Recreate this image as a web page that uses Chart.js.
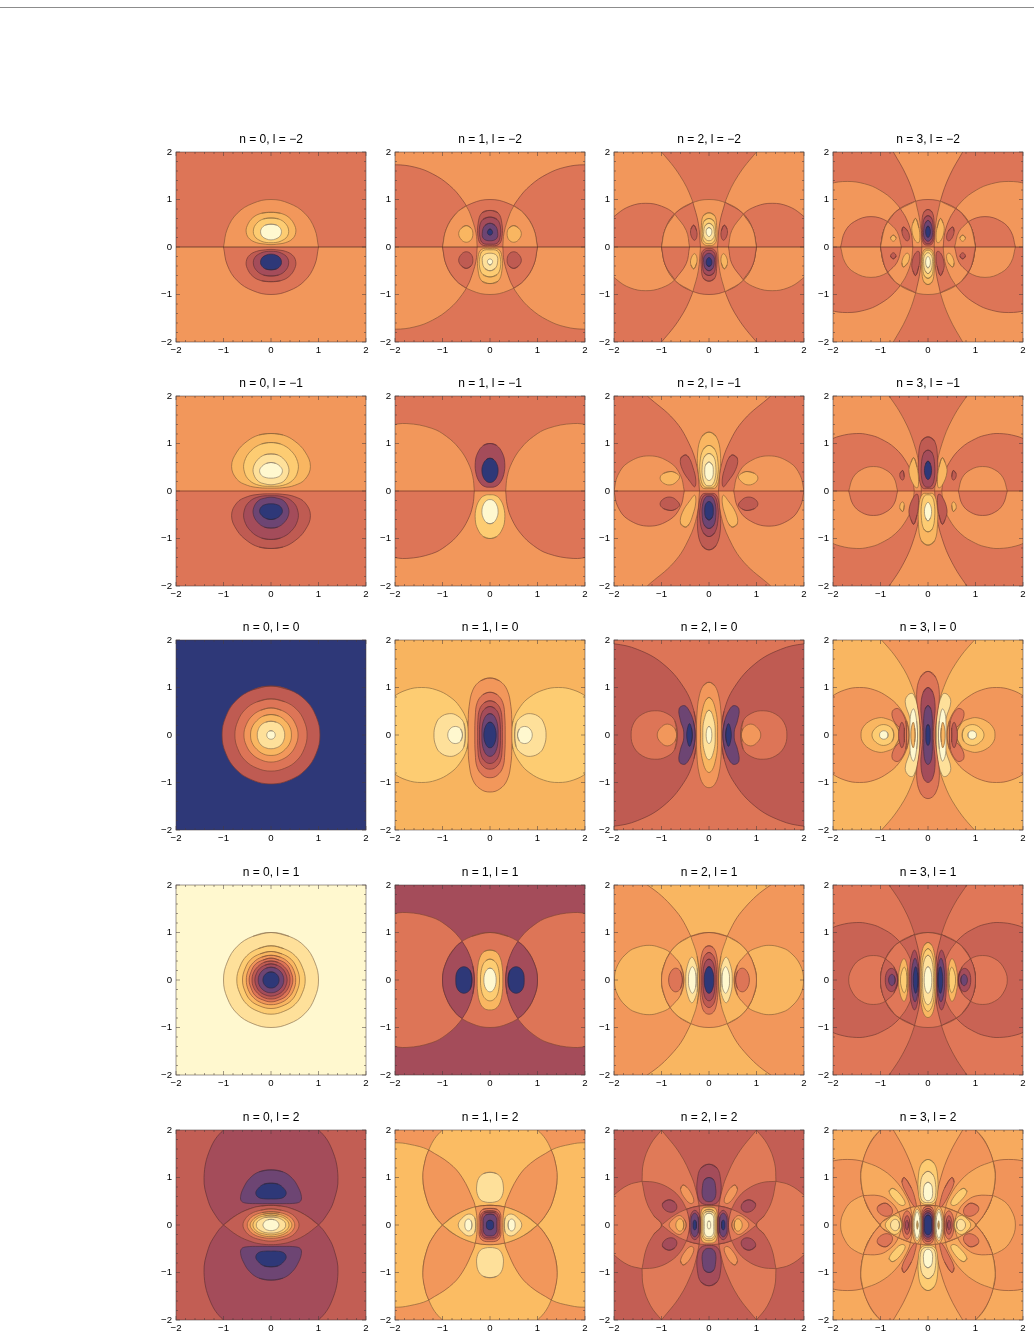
<!DOCTYPE html>
<html>
<head>
<meta charset="utf-8">
<title>Contour grid</title>
<script src="https://cdn.jsdelivr.net/npm/chart.js@4"></script>
<style>
html,body{margin:0;padding:0;background:#fff}
body{position:relative;width:1034px;height:1339px;overflow:hidden}
#rule{position:absolute;left:0;top:7px;width:1034px;height:1px;background:#8c8c8c}
canvas{position:absolute}
</style>
</head>
<body>
<div id="rule"></div>
<script>
// Grid axes
const nValues = [0, 1, 2, 3];
const lValues = [-2, -1, 0, 1, 2];
const majorTicks = [-2, -1, 0, 1, 2];
const minorTicks = [-1.8,-1.6,-1.4,-1.2,-0.8,-0.6,-0.4,-0.2,0.2,0.4,0.6,0.8,1.2,1.4,1.6,1.8];

// Contour band colours, dark to light. The reversed order gives the opposite-sign band.
const bandOrder = "NPWBROLYCV";
const bandColors = ["#2e3878","#6d4573","#a44c5a","#bf5b52","#dd7557","#f2975b","#f9b661","#fdcc72","#fee09a","#fff8cf"];
// A few panels run their colour scale slightly differently
const bandShifts = {"3,2": {L: "#f7aa5e", O: "#f1945a"}, "3,1": {B: "#c96354", R: "#e07758"}, "2,2": {B: "#c35e54", R: "#e07a58"},
  "0,2": {B: "#c25e54"}, "1,2": {L: "#fbbc63"}, "1,0": {L: "#f8b45f"}};

// Frequently used contour arcs (x,y pairs)
const unitQuarter = [0,1,.38,.92,.71,.71,.92,.38,1,0];
const lensQuarter = [0,.414,.2,.4,.4,.356,.7,.224,1,0];
const offsetDisc = [0,2.41,.5,2.32,1,2,1.28,1.6,1.41,1,1.32,.5,1.166,.2,1,0,.7,-.224,.35,-.37,0,-.41];

// Contour shapes per panel: [band, symmetry, points]
const n0_lm2 = [
 ['O','h',unitQuarter],
 ['L','y',[0,.73,.2,.71,.38,.62,.5,.45,.52,.3,.45,.17,.3,.09,.12,.06,0,.05]],
 ['Y','y',[0,.61,.16,.59,.3,.5,.37,.36,.34,.22,.22,.13,.1,.095,0,.09]],
 ['V','y',[0,.48,.12,.46,.2,.39,.22,.32,.19,.23,.1,.17,0,.15]]];
const n1_lm2 = [
 ['R','a',[.27,0,.296,.3,.418,.7,.586,1,.855,1.3,1.21,1.54,1.58,1.68,2,1.73,2.4,1.68,2.4,0]],
 ['R','h',unitQuarter],
 ['O','a',[[.27,0,.296,.3,.418,.7,.5,.866],[.5,.866,.71,.71,.92,.38,1,0]]],
 ['L','b',[.5,.45,.6,.4,.66,.28,.6,.15,.5,.1,.4,.15,.36,.28,.4,.4,.5,.45]],
 ['B','y',[0,.77,.17,.72,.25,.5,.25,.2,.18,.05,0,.03]],
 ['W','y',[0,.63,.15,.58,.22,.42,.21,.2,.15,.08,0,.06]],
 ['P','y',[0,.5,.11,.45,.16,.32,.14,.18,0,.13]],
 ['N','y',[0,.38,.04,.35,.055,.31,.04,.27,0,.25]]];
const n2_lm2 = [
 ['O','a',[.18,0,.225,.5,.36,1,.61,1.5,1,2,1.2,2.2,2.4,2.2,2.4,0]],
 ['R','a',[.41,0,.48,.35,.72,.69,1,.86,1.33,.92,1.66,.86,1.94,.69,2.1,.5,2.2,0]],
 ['O','h',unitQuarter],
 ['R','a',[[.18,0,.225,.5,.34,.94],[.34,.94,.71,.71,.92,.38,1,0]]],
 ['O','a',[[.41,0,.48,.35,.72,.69],[.72,.69,.92,.38,1,0]]],
 ['L','y',[0,.72,.12,.66,.16,.45,.16,.15,.1,.05,0,.03]],
 ['Y','y',[0,.6,.1,.55,.135,.4,.13,.17,.08,.09,0,.07]],
 ['C','y',[0,.5,.08,.45,.11,.33,.1,.2,0,.13]],
 ['V','y',[0,.41,.045,.38,.06,.32,.045,.26,0,.22]],
 ['B','b',[.32,.46,.38,.38,.38,.25,.31,.14,.26,.2,.26,.34,.32,.46]]];
const n3_lm2 = [
 ['R','a',[.13,0,.165,.5,.27,1,.454,1.5,.73,2,.85,2.2,2.4,2.2,2.4,0]],
 ['O','a',[.32,0,.353,.3,.457,.6,.7,.95,1.02,1.2,1.333,1.33,1.7,1.38,2.07,1.33,2.4,1.19,2.4,0]],
 ['R','a',[.56,0,.65,.32,.846,.533,1.2,.64,1.55,.535,1.75,.32,1.84,0]],
 ['R','h',unitQuarter],
 ['O','a',[[.13,0,.165,.5,.26,.966],[.26,.966,.71,.71,.92,.38,1,0]]],
 ['R','a',[[.32,0,.353,.3,.457,.6,.584,.81],[.584,.81,.71,.71,.92,.38,1,0]]],
 ['O','a',[[.56,0,.65,.32,.846,.533],[.846,.533,.92,.38,1,0]]],
 ['B','y',[0,.79,.09,.73,.13,.5,.13,.2,.08,.06,0,.04]],
 ['W','y',[0,.66,.08,.6,.11,.42,.11,.2,.06,.09,0,.07]],
 ['P','y',[0,.56,.06,.5,.09,.35,.08,.2,0,.12]],
 ['N','y',[0,.44,.035,.4,.05,.32,.035,.24,0,.2]],
 ['L','b',[.26,.6,.32,.5,.34,.35,.28,.15,.2,.09,.17,.2,.19,.4,.26,.6]],
 ['B','b',[.52,.42,.55,.33,.5,.18,.43,.13,.39,.2,.43,.34,.52,.42]],
 ['L','b',[.73,.25,.79,.19,.73,.12,.67,.19,.73,.25]]];

const n0_lm1 = [
 ['L','y',[0,1.21,.25,1.18,.5,1.05,.72,.82,.83,.52,.72,.25,.5,.12,.25,.07,0,.06]],
 ['Y','y',[0,1.02,.2,.99,.42,.85,.56,.62,.56,.4,.45,.22,.25,.12,0,.1]],
 ['C','y',[0,.78,.14,.76,.28,.66,.37,.5,.36,.34,.26,.2,.13,.15,0,.13]],
 ['V','y',[0,.6,.1,.58,.19,.52,.24,.43,.2,.33,.1,.28,0,.27]]];
const n1_lm1 = [
 ['O','a',[.33,0,.362,.3,.463,.6,.652,.9,.917,1.15,1.226,1.32,1.75,1.42,2.1,1.376,2.4,1.26,2.4,0]],
 ['W','y',[0,1,.14,.96,.26,.8,.31,.6,.29,.35,.2,.16,.1,.09,0,.08]],
 ['N','y',[0,.69,.08,.66,.15,.55,.17,.42,.14,.29,.07,.2,0,.18]]];
const n2_lm1 = [
 ['R','a',[.2,0,.25,.5,.42,1,.735,1.5,1.3,2,1.5,2.2,2.4,2.2,2.4,0]],
 ['O','a',[.52,0,.6,.33,.82,.6,1.26,.74,1.7,.6,1.92,.33,2,0]],
 ['L','y',[0,1.24,.15,1.15,.24,.8,.22,.35,.15,.08,0,.05]],
 ['Y','y',[0,.96,.12,.88,.19,.6,.18,.3,.11,.1,0,.08]],
 ['C','y',[0,.79,.1,.72,.145,.5,.13,.27,.07,.13,0,.11]],
 ['V','y',[0,.61,.07,.55,.09,.42,.07,.28,0,.22]],
 ['B','b',[.5,.76,.6,.68,.56,.45,.4,.2,.3,.09,.28,.25,.34,.5,.42,.7,.5,.76]],
 ['L','b',[.8,.41,.96,.37,1.03,.27,.95,.16,.8,.13,.68,.2,.62,.3,.7,.38,.8,.41]]];
const n3_lm1 = [
 ['O','a',[.14,0,.178,.5,.296,1,.503,1.5,.82,2,1,2.2,2.4,2.2,2.4,0]],
 ['R','a',[.29,0,.328,.3,.45,.6,.69,.9,1,1.1,1.25,1.184,1.5,1.21,1.85,1.158,2.1,1.05,2.4,.82,2.4,0]],
 ['O','a',[.64,0,.72,.28,.9,.45,1.15,.515,1.4,.45,1.58,.28,1.67,0]],
 ['B','y',[0,1.14,.14,1.05,.2,.7,.19,.3,.12,.07,0,.05]],
 ['W','y',[0,.86,.09,.8,.14,.55,.13,.25,.07,.1,0,.08]],
 ['N','y',[0,.63,.05,.57,.075,.43,.05,.3,0,.24]],
 ['L','b',[.3,.7,.36,.6,.4,.4,.3,.12,.22,.07,.2,.25,.23,.5,.3,.7]],
 ['B','b',[.53,.43,.59,.37,.58,.27,.53,.23,.5,.3,.53,.43]]];

const n0_l0 = [
 ['B','o',[0,1.03,.39,.95,.73,.73,.95,.39,1.03,0]],
 ['R','o',[0,.76,.29,.7,.54,.54,.7,.29,.76,0]],
 ['O','o',[0,.57,.22,.52,.4,.4,.52,.22,.57,0]],
 ['L','o',[0,.43,.16,.4,.3,.3,.4,.16,.43,0]],
 ['C','o',[0,.29,.11,.27,.21,.21,.27,.11,.29,0]],
 ['V','o',[0,.09,.035,.083,.064,.064,.083,.035,.09,0]]];
const n1_l0 = [
 ['Y','x',[.44,0,.486,.3,.64,.6,.84,.8,1.13,.95,1.44,1,1.75,.95,2.04,.8,2.24,.6,2.44,0]],
 ['C','x',[.52,0,.55,.25,.68,.4,.85,.45,1.05,.37,1.15,.2,1.18,0]],
 ['V','x',[.58,0,.62,.13,.73,.18,.84,.13,.89,0]],
 ['O','o',[0,1.2,.2,1.14,.36,.95,.44,.6,.46,.25,.46,0]],
 ['R','o',[0,.9,.15,.85,.27,.68,.31,.4,.32,0]],
 ['B','o',[0,.72,.12,.68,.22,.54,.255,.3,.26,0]],
 ['W','o',[0,.6,.1,.56,.18,.44,.215,.23,.22,0]],
 ['P','o',[0,.45,.07,.42,.13,.32,.165,.17,.17,0]],
 ['N','o',[0,.27,.05,.25,.09,.19,.12,.1,.13,0]]];
const n2_l0 = [
 ['B','x',[.25,0,.316,.5,.53,1,.97,1.5,1.5,1.8,2,1.92,2.4,1.92,2.6,1.5,3,0]],
 ['R','x',[.67,0,.72,.3,.9,.46,1.15,.51,1.4,.44,1.58,.26,1.64,0]],
 ['O','x',[.68,0,.72,.14,.88,.23,1.03,.14,1.09,0]],
 ['P','x',[.29,0,.33,.3,.44,.55,.53,.62,.63,.55,.6,.3,.54,.12,.53,0]],
 ['N','x',[.35,0,.37,.15,.41,.24,.45,.15,.47,0]],
 ['O','o',[0,1.11,.12,1.04,.21,.8,.255,.42,.26,0]],
 ['L','o',[0,.79,.07,.73,.13,.56,.175,.3,.18,0]],
 ['C','o',[0,.52,.05,.48,.09,.37,.125,.2,.13,0]],
 ['V','o',[0,.18,.023,.166,.043,.128,.055,.068,.06,0]]];
const n3_l0 = [
 ['L','x',[.15,0,.195,.5,.33,1,.58,1.5,.98,2,1.5,2.5,2.5,2.8,3.2,0]],
 ['O','x',[.4,0,.45,.3,.62,.6,.84,.8,1.13,.95,1.44,1,1.75,.95,2.04,.8,2.24,.6,2.44,0]],
 ['L','x',[.6,0,.7,.25,.9,.35,1.05,.36,1.25,.28,1.38,.14,1.41,0]],
 ['Y','x',[.72,0,.76,.14,.93,.22,1.1,.15,1.18,0]],
 ['V','x',[.84,0,.86,.06,.93,.09,1,.06,1.02,0]],
 ['R','x',[.45,0,.47,.3,.62,.55,.75,.5,.72,.3,.56,.1,.56,0]],
 ['B','x',[.5,0,.5,.15,.55,.27,.6,.15,.62,0]],
 ['C','x',[.17,0,.18,.4,.3,.85,.4,.86,.48,.7,.38,.35,.33,0]],
 ['V','x',[.22,0,.24,.3,.3,.55,.36,.45,.38,.2,.38,0]],
 ['L','x',[.27,0,.28,.15,.31,.27,.35,.15,.36,0]],
 ['R','o',[0,1.34,.16,1.22,.24,.85,.19,.4,.15,0]],
 ['W','o',[0,1,.1,.9,.15,.6,.13,.3,.11,0]],
 ['P','o',[0,.62,.06,.55,.09,.35,.09,.15,.09,0]],
 ['N','o',[0,.22,.03,.18,.045,.1,.045,0]]];

const n0_l1 = [
 ['C','o',unitQuarter],
 ['Y','o',[0,.72,.27,.66,.51,.51,.66,.27,.72,0]],
 ['L','o',[0,.6,.23,.55,.43,.43,.55,.23,.6,0]],
 ['O','o',[0,.52,.2,.48,.37,.37,.48,.2,.52,0]],
 ['R','o',[0,.46,.17,.42,.33,.33,.42,.17,.46,0]],
 ['B','o',[0,.4,.15,.37,.28,.28,.37,.15,.4,0]],
 ['W','o',[0,.34,.13,.31,.24,.24,.31,.13,.34,0]],
 ['P','o',[0,.27,.1,.25,.19,.19,.25,.1,.27,0]],
 ['N','o',[0,.17,.065,.157,.12,.12,.157,.065,.17,0]]];
const n1_l1 = [
 ['R','x',[.33,0,.362,.3,.463,.6,.652,.9,.917,1.15,1.226,1.32,1.75,1.42,2.1,1.376,2.4,1.26,2.9,.8,3.17,0]],
 ['R','o',unitQuarter],
 ['W','x',[[.33,0,.362,.3,.463,.6,.584,.81],[.584,.81,.71,.71,.92,.38,1,0]]],
 ['N','x',[.38,0,.42,.2,.55,.28,.68,.2,.72,0]],
 ['L','o',[0,.63,.12,.6,.21,.48,.26,.25,.27,0]],
 ['Y','o',[0,.44,.08,.41,.15,.32,.19,.16,.2,0]],
 ['V','o',[0,.25,.05,.23,.09,.18,.12,.1,.13,0]]];
const n2_l1 = [
 ['O','x',[.2,0,.25,.5,.42,1,.735,1.5,1.3,2,2,2.35,2.57,2.37,3,2,4,0]],
 ['L','x',[.53,0,.6,.32,.816,.578,1.05,.69,1.26,.73,1.5,.69,1.7,.59,1.92,.32,1.99,0]],
 ['O','o',unitQuarter],
 ['L','x',[[.2,0,.25,.5,.385,.92],[.385,.92,.71,.71,.92,.38,1,0]]],
 ['O','x',[[.53,0,.6,.32,.816,.578],[.816,.578,.92,.38,1,0]]],
 ['C','x',[.24,0,.25,.25,.36,.48,.46,.28,.49,0]],
 ['V','x',[.27,0,.28,.15,.35,.28,.42,.15,.43,0]],
 ['R','x',[.56,0,.6,.18,.7,.25,.8,.18,.85,0]],
 ['R','o',[0,.72,.09,.68,.15,.55,.185,.3,.19,0]],
 ['B','o',[0,.58,.07,.54,.125,.43,.155,.23,.16,0]],
 ['W','o',[0,.44,.055,.41,.1,.32,.125,.17,.13,0]],
 ['N','o',[0,.28,.04,.26,.07,.2,.095,.11,.1,0]]];
const n3_l1 = [
 ['R','x',[.14,0,.178,.5,.296,1,.503,1.5,.82,2,1.2,2.5,2.2,3,3.2,0]],
 ['B','x',[.29,0,.328,.3,.45,.6,.69,.9,1,1.1,1.25,1.184,1.5,1.21,1.85,1.158,2.1,1.05,2.4,.82,2.6,.5,2.71,0]],
 ['R','x',[.63,0,.72,.28,.9,.45,1.15,.515,1.4,.45,1.58,.28,1.67,0]],
 ['R','o',unitQuarter],
 ['B','x',[[.14,0,.178,.5,.284,.96],[.284,.96,.71,.71,.92,.38,1,0]]],
 ['R','x',[[.29,0,.328,.3,.45,.6,.595,.8],[.595,.8,.71,.71,.92,.38,1,0]]],
 ['B','x',[[.63,0,.72,.28,.894,.448],[.894,.448,.96,.28,1,0]]],
 ['L','o',[0,.79,.075,.74,.13,.58,.16,.32,.165,0]],
 ['Y','o',[0,.66,.06,.61,.11,.47,.135,.25,.14,0]],
 ['C','o',[0,.52,.05,.48,.09,.37,.11,.2,.115,0]],
 ['V','o',[0,.28,.03,.26,.057,.2,.075,.11,.08,0]],
 ['W','x',[.19,0,.2,.35,.28,.63,.36,.45,.385,.15,.385,0]],
 ['P','x',[.2,0,.21,.25,.27,.46,.33,.3,.35,0]],
 ['N','x',[.21,0,.22,.15,.26,.28,.3,.15,.31,0]],
 ['L','x',[.42,0,.43,.25,.5,.45,.58,.32,.62,0]],
 ['Y','x',[.44,0,.45,.15,.5,.27,.56,.15,.58,0]],
 ['W','x',[.64,0,.68,.18,.77,.245,.86,.18,.9,0]],
 ['P','x',[.69,0,.71,.08,.76,.12,.81,.08,.83,0]]];

const n0_l2 = [
 ['W','y',offsetDisc],
 ['B','c',lensQuarter],
 ['R','o',[0,.34,.22,.31,.42,.24,.54,.13,.59,0]],
 ['O','o',[0,.28,.19,.26,.36,.2,.46,.11,.5,0]],
 ['L','o',[0,.245,.17,.225,.31,.17,.4,.09,.44,0]],
 ['Y','o',[0,.21,.14,.19,.27,.15,.35,.08,.38,0]],
 ['C','o',[0,.17,.12,.16,.22,.12,.29,.065,.31,0]],
 ['V','o',[0,.12,.065,.11,.12,.085,.155,.045,.17,0]],
 ['P','y',[0,1.16,.25,1.12,.45,.98,.58,.78,.64,.6,.62,.5,.52,.46,.25,.45,0,.45]],
 ['N','y',[0,.88,.15,.86,.27,.77,.32,.67,.26,.58,.12,.55,0,.55]]];
const n1_l2 = [
 ['L','x',[.27,0,.296,.3,.342,.5,.586,1,.855,1.3,1.29,1.58,1.7,1.7,2,1.73,2.4,1.68,3,1.41,3.73,0]],
 ['L','y',offsetDisc],
 ['O','a',[[.31,.38,.342,.5,.586,1,.855,1.3,1.29,1.58],[1.29,1.58,1.356,1.4,1.414,1,1.32,.5,1.166,.2,1,0],[1,0,.8,.166,.5,.32,.31,.38]]],
 ['L','c',lensQuarter],
 ['O','o',[[0,.414,.15,.406,.31,.38],[.31,.38,.28,.2,.27,0]]],
 ['C','y',[0,1.11,.14,1.08,.24,.98,.28,.82,.27,.66,.2,.53,.1,.485,0,.475]],
 ['C','x',[.3,0,.32,.15,.42,.23,.55,.18,.67,0]],
 ['V','x',[.38,0,.4,.09,.455,.125,.51,.09,.53,0]],
 ['R','o',[0,.35,.15,.33,.22,.24,.23,.1,.23,0]],
 ['B','o',[0,.3,.13,.28,.2,.2,.2,.08,.2,0]],
 ['W','o',[0,.27,.12,.25,.17,.17,.17,.07,.17,0]],
 ['P','o',[0,.23,.09,.21,.14,.13,.14,.06,.14,0]],
 ['N','o',[0,.1,.05,.085,.075,.04,.075,0]]];
const n2_l2 = [
 ['R','a',[[1,2,1.229,1.7,1.382,1.3,1.41,.92],[1.41,.92,1.1,.89,.8,.752,.6,.56,.471,.33],[.471,.33,.35,.37,.207,.4],[.207,.4,.267,.7,.36,1,.61,1.5,1,2]]],
 ['R','x',[[1,0,1.166,.2,1.32,.5,1.41,.92],[1.41,.92,1.7,.842,2,.63,2.1,.5,2.25,0]]],
 ['R','c',lensQuarter],
 ['B','x',[[.18,0,.19,.2,.207,.4],[.207,.4,.35,.37,.471,.33],[.471,.33,.43,.17,.41,0]]],
 ['L','o',[0,.38,.12,.36,.17,.25,.17,.1,.17,0]],
 ['Y','o',[0,.33,.1,.3,.15,.2,.15,.08,.15,0]],
 ['C','o',[0,.29,.09,.26,.125,.17,.125,.07,.125,0]],
 ['V','o',[0,.25,.07,.22,.1,.14,.1,.06,.1,0]],
 ['V','o',[0,.09,.02,.07,.035,.03,.035,0]],
 ['W','x',[.19,0,.2,.2,.3,.31,.39,.2,.41,0]],
 ['P','x',[.22,0,.23,.17,.3,.25,.37,.17,.38,0]],
 ['N','x',[.265,0,.27,.07,.3,.105,.33,.07,.335,0]],
 ['O','x',[.48,0,.52,.12,.62,.2,.75,.13,.84,0]],
 ['L','x',[.53,0,.55,.09,.61,.13,.67,.09,.7,0]],
 ['W','y',[0,1.28,.17,1.2,.245,.95,.245,.65,.17,.47,0,.43]],
 ['P','y',[0,1,.1,.95,.14,.78,.14,.62,.09,.52,0,.49]],
 ['O','b',[.55,.84,.6,.75,.5,.55,.38,.45,.32,.5,.37,.66,.47,.8,.55,.84]],
 ['W','b',[.85,.53,.98,.45,.93,.32,.78,.27,.68,.35,.72,.48,.85,.53]]];
const n3_l2 = [
 ['L','x',[.13,0,.165,.5,.27,1,.454,1.5,.73,2,1.2,2.6,3,3.6,4,0]],
 ['O','x',[.32,0,.353,.3,.457,.6,.7,.95,1.02,1.2,1.333,1.33,1.7,1.38,2.07,1.33,2.4,1.19,2.9,.68,3.08,0]],
 ['L','x',[.56,0,.65,.32,.846,.533,1.2,.64,1.55,.535,1.75,.32,1.84,0]],
 ['L','y',offsetDisc],
 ['O','a',[[.13,0,.165,.5,.27,1,.454,1.5,.73,2,.83,2.14],[.83,2.14,1,2,1.229,1.7,1.382,1.3,1.414,1,1.32,.5,1.166,.2,1,0]]],
 ['L','a',[[.32,0,.353,.3,.457,.6,.7,.95,1.02,1.2,1.37,1.34],[1.37,1.34,1.414,1,1.32,.5,1.166,.2,1,0]]],
 ['O','a',[[.56,0,.65,.32,.846,.533,1.05,.62,1.362,.62],[1.362,.62,1.32,.5,1.166,.2,1,0]]],
 ['O','c',lensQuarter],
 ['L','x',[[.13,0,.14,.2,.152,.405],[.152,.405,.4,.356,.7,.224,1,0]]],
 ['O','x',[[.32,0,.335,.2,.37,.365],[.37,.365,.7,.224,1,0]]],
 ['L','x',[[.56,0,.58,.15,.62,.27],[.62,.27,.8,.166,1,0]]],
 ['Y','y',[0,1.38,.13,1.3,.2,1.05,.2,.65,.14,.47,0,.43]],
 ['C','y',[0,1.13,.11,1.05,.16,.85,.16,.62,.11,.5,0,.47]],
 ['V','y',[0,.9,.07,.85,.095,.72,.09,.6,.05,.53,0,.51]],
 ['R','b',[.5,1,.55,.9,.42,.6,.3,.4,.25,.38,.26,.5,.35,.78,.5,1]],
 ['Y','b',[.76,.77,.82,.7,.68,.5,.55,.41,.48,.45,.55,.6,.68,.74,.76,.77]],
 ['R','b',[.9,.46,1.05,.4,1.06,.3,.95,.2,.82,.19,.75,.26,.78,.38,.9,.46]],
 ['R','o',[0,.4,.09,.36,.13,.22,.13,.1,.13,0]],
 ['B','o',[0,.35,.08,.31,.115,.2,.115,.09,.115,0]],
 ['W','o',[0,.3,.07,.27,.1,.17,.1,.08,.1,0]],
 ['P','o',[0,.26,.06,.23,.09,.15,.09,.07,.09,0]],
 ['N','o',[0,.21,.05,.18,.075,.11,.075,.05,.075,0]],
 ['L','x',[.145,0,.15,.25,.23,.39,.31,.25,.33,0]],
 ['C','x',[.15,0,.16,.2,.23,.33,.29,.2,.31,0]],
 ['V','x',[.165,0,.175,.15,.23,.28,.28,.15,.29,0]],
 ['Y','x',[.21,0,.215,.05,.225,.09,.235,.05,.24,0]],
 ['R','x',[.345,0,.36,.2,.44,.3,.52,.2,.54,0]],
 ['B','x',[.38,0,.39,.12,.44,.2,.49,.12,.51,0]],
 ['W','x',[.41,0,.42,.06,.44,.1,.47,.06,.475,0]],
 ['Y','x',[.55,0,.59,.13,.7,.2,.82,.13,.9,0]],
 ['C','x',[.6,0,.62,.08,.69,.12,.76,.08,.79,0]]];

// Background band of each panel, rows by l then columns by n
const backgrounds = [
 ['R','O','R','O'],
 ['O','R','O','R'],
 ['N','L','R','O'],
 ['V','W','L','B'],
 ['B','O','B','O']];
const panelShapes = [
 [n0_lm2,n1_lm2,n2_lm2,n3_lm2],
 [n0_lm1,n1_lm1,n2_lm1,n3_lm1],
 [n0_l0,n1_l0,n2_l0,n3_l0],
 [n0_l1,n1_l1,n2_l1,n3_l1],
 [n0_l2,n1_l2,n2_l2,n3_l2]];

// Plot-area placement in the page
const plotLefts = [176, 395, 614, 833];
const plotTops = [152, 396, 640, 885, 1130];
const PLOT_SIZE = 190;
const SIDE_GUTTER = 24;

const pairs = f => { const o = []; for (let i = 0; i < f.length; i += 2) o.push({x: f[i], y: f[i + 1]}); return o; };
const trace = p => Array.isArray(p[0]) ? p.flatMap(pairs) : pairs(p);
const flipX = a => a.map(q => ({x: -q.x, y: q.y}));
const flipY = a => a.map(q => ({x: q.x, y: -q.y}));
// Overlap the ends of a closed run so the spline stays smooth across its seam
const seam = a => [a[a.length - 2], ...a, a[1]];

// Expand one stored contour into closed loops. `edge` is an open outline to stroke
// instead of the loop, so straight closing edges stay undrawn; `lower` marks y<0 copies.
function expand(kind, p) {
  const q = trace(p);
  const last = q[q.length - 1];
  if (kind === 'o' || kind === 'c') {
    const right = kind === 'o' ? q.concat(flipY(q).reverse().slice(1)) : q.concat(flipY(q).reverse());
    return [{pts: seam(right.concat(flipX(right).reverse().slice(1))), lower: false}];
  }
  if (kind === 'h') {
    const up = q.concat([last]).concat(flipX(q.concat([last])).reverse());
    const edge = flipX(q).reverse().concat(q.slice(1));
    return [{pts: seam(up), edge, lower: false}, {pts: seam(flipY(up)), edge: flipY(edge), lower: true}];
  }
  if (kind === 'y') {
    const loop = seam(q.concat(flipX(q).reverse().slice(1)));
    return [{pts: loop, lower: false}, {pts: flipY(loop), lower: true}];
  }
  if (kind === 'x') {
    const loop = seam(q.concat(flipY(q).reverse().slice(1)));
    return [{pts: loop, lower: false}, {pts: flipX(loop), lower: false}];
  }
  if (kind === 'b') {
    const loop = seam(q);
    return [
      {pts: loop, lower: false}, {pts: flipX(loop), lower: false},
      {pts: flipY(loop), lower: true}, {pts: flipX(flipY(loop)), lower: true}];
  }
  const loop = [q[0], ...q, last, q[0], q[0]];
  return [
    {pts: loop, edge: q, lower: false}, {pts: flipX(loop), edge: flipX(q), lower: false},
    {pts: flipY(loop), edge: flipY(q), lower: true}, {pts: flipX(flipY(loop)), edge: flipX(flipY(q)), lower: true}];
}

const RECT_UP = [-2.2,2.2, 2.2,2.2, 2.2,0, -2.2,0, -2.2,2.2];
const RECT_FULL = [-2.2,2.2, 2.2,2.2, 2.2,-2.2, -2.2,-2.2, -2.2,2.2];

function bandColor(letter, reversed, shifts) {
  const i = bandOrder.indexOf(letter);
  const key = reversed ? bandOrder[9 - i] : letter;
  return (shifts && shifts[key]) || bandColors[bandOrder.indexOf(key)];
}
// Contour lines are an opaque darkening of their band, so coincident lines do not build up
function lineColor(hex) {
  const v = parseInt(hex.slice(1), 16);
  const mix = (c, d) => Math.round(c * 0.46 + d * 0.54);
  return `rgb(${mix(v >> 16, 48)},${mix((v >> 8) & 255, 28)},${mix(v & 255, 24)})`;
}

function buildDatasets(bg, shapes, anti, nodalStyle, shifts) {
  const painted = [];
  const base = (pts, color) => painted.push({data: pts, showLine: true, fill: 'shape', backgroundColor: color,
    borderWidth: 0, borderColor: 'transparent', tension: 0, pointRadius: 0});
  base(pairs(RECT_FULL), bandColor(bg, anti, shifts));
  if (anti) base(pairs(RECT_UP), bandColor(bg, false, shifts));
  shapes.forEach(([letter, kind, p]) => {
    expand(kind, p).forEach(loop => {
      const color = bandColor(letter, anti && loop.lower, shifts);
      painted.push({data: loop.pts, showLine: true, fill: 'shape', backgroundColor: color,
        borderColor: loop.edge ? 'transparent' : lineColor(color), borderWidth: loop.edge ? 0 : 0.7,
        tension: 0.4, pointRadius: 0});
      if (loop.edge) painted.push({data: loop.edge, showLine: true, fill: false,
        borderColor: lineColor(color), borderWidth: 0.7, tension: 0.4, pointRadius: 0});
    });
  });
  if (anti) painted.push({data: pairs([-2.2,0,2.2,0]), showLine: true, fill: false,
    borderColor: nodalStyle.color, borderWidth: nodalStyle.width, tension: 0, pointRadius: 0});
  return painted.reverse();
}

// Frame with inward ticks on all four sides
const frameTicks = {
  id: 'frameTicks',
  afterDatasetsDraw(chart) {
    const {ctx, chartArea: a, scales: {x, y}} = chart;
    ctx.save();
    ctx.strokeStyle = 'rgba(70,60,60,0.75)';
    ctx.lineWidth = 0.7;
    ctx.strokeRect(a.left, a.top, a.right - a.left, a.bottom - a.top);
    const mark = (v, len) => {
      const px = x.getPixelForValue(v), py = y.getPixelForValue(v);
      ctx.beginPath();
      ctx.moveTo(px, a.bottom); ctx.lineTo(px, a.bottom - len);
      ctx.moveTo(px, a.top); ctx.lineTo(px, a.top + len);
      ctx.moveTo(a.left, py); ctx.lineTo(a.left + len, py);
      ctx.moveTo(a.right, py); ctx.lineTo(a.right - len, py);
      ctx.stroke();
    };
    majorTicks.forEach(v => mark(v, 4));
    minorTicks.forEach(v => mark(v, 2));
    ctx.restore();
  }
};

const tickLabel = v => String(v).replace('-', '\u2212');
const axisFont = {family: '"Liberation Sans", Arial, sans-serif', size: 9.6};

lValues.forEach((l, r) => nValues.forEach((n, c) => {
  const canvas = document.createElement('canvas');
  const w = SIDE_GUTTER * 2 + PLOT_SIZE, h = 20 + PLOT_SIZE + 14;
  canvas.width = w; canvas.height = h;
  canvas.style.left = (plotLefts[c] - SIDE_GUTTER) + 'px';
  canvas.style.top = (plotTops[r] - 20) + 'px';
  canvas.style.width = w + 'px'; canvas.style.height = h + 'px';
  document.body.appendChild(canvas);
  const anti = l < 0;
  const nodal = l === -2 ? {color: 'rgba(70,35,28,0.85)', width: 0.8} : {color: 'rgba(125,58,40,0.55)', width: 1.6};
  new Chart(canvas, {
    type: 'scatter',
    data: {datasets: buildDatasets(backgrounds[r][c], panelShapes[r][c], anti, nodal, bandShifts[`${n},${l}`])},
    plugins: [frameTicks],
    options: {
      responsive: false, animation: false, devicePixelRatio: 1,
      layout: {padding: {right: SIDE_GUTTER, left: 0, top: 0, bottom: 0}},
      plugins: {
        legend: {display: false}, tooltip: {enabled: false},
        title: {display: true, fullSize: false, text: `n = ${n}, l = ${tickLabel(l)}`, color: '#000',
          font: {family: '"Liberation Sans", Arial, sans-serif', size: 12, weight: 'normal', lineHeight: 1},
          padding: {top: 2, bottom: 6}}
      },
      scales: {
        x: {type: 'linear', min: -2, max: 2, grid: {display: false, drawTicks: false}, border: {display: false},
          afterFit: s => { s.height = 14; },
          ticks: {stepSize: 1, autoSkip: false, maxRotation: 0, padding: 3, color: '#000', font: axisFont, callback: tickLabel}},
        y: {type: 'linear', min: -2, max: 2, grid: {display: false, drawTicks: false}, border: {display: false},
          afterFit: s => { s.width = SIDE_GUTTER; },
          ticks: {stepSize: 1, autoSkip: false, padding: 4, color: '#000', font: axisFont, callback: tickLabel}}
      }
    }
  });
}));
</script>
</body>
</html>
